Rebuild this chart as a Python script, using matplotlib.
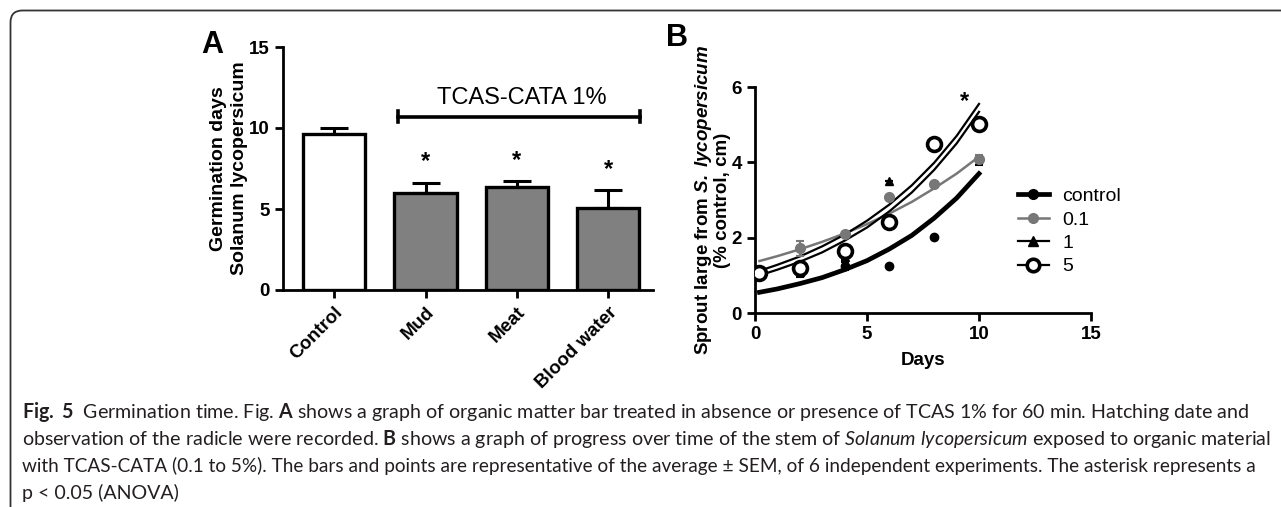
#! /usr/bin/env python3
import numpy as np
import matplotlib
matplotlib.use('Agg')
from matplotlib import pyplot as plt, patches
from matplotlib.lines import Line2D

plt.rcParams['font.family'] = ['Liberation Sans', 'DejaVu Sans']
plt.rcParams['mathtext.fontset'] = 'custom'
plt.rcParams['mathtext.rm'] = 'Lato'
plt.rcParams['mathtext.it'] = 'Lato:italic'
plt.rcParams['mathtext.bf'] = 'Lato:bold'
try:
    plt.rcParams['mathtext.bfit'] = 'Liberation Sans:italic:bold'
    BFIT = True
except KeyError:
    BFIT = False

# Panel A: germination days
categories = ['Control', 'Mud', 'Meat', 'Blood water']
germ_days = [9.65, 6.0, 6.35, 5.05]
germ_sem = [0.35, 0.6, 0.35, 1.1]
bar_colors = ['white', '#808080', '#808080', '#808080']
significant = [False, True, True, True]

# Panel B: sprout length over time
days = [0.2, 2, 4, 6, 8, 10]
control_pts = [1.05, 1.15, 1.25, 1.25, 2.02, 4.05]
control_err = [0.0, 0.1, 0.1, 0.0, 0.0, 0.12]
c01_pts = [1.05, 1.72, 2.1, 3.07, 3.42, 4.1]
c01_err = [0.0, 0.2, 0.05, 0.0, 0.05, 0.1]
c1_pts = [1.05, 1.1, 1.5, 3.5, 4.45, 5.0]
c1_err = [0.0, 0.15, 0.1, 0.0, 0.0, 0.0]
c5_pts = [1.05, 1.2, 1.65, 2.42, 4.48, 5.03]
c5_err = [0.0, 0.05, 0.0, 0.0, 0.05, 0.05]

# fitted growth curves
curve_days = [0.2, 1, 2, 3, 4, 5, 6, 7, 8, 9, 10]
fit_control = [0.55, 0.64, 0.78, 0.94, 1.15, 1.39, 1.70, 2.06, 2.52, 3.05, 3.70]
fit_01 = [1.38, 1.51, 1.69, 1.89, 2.11, 2.36, 2.64, 2.95, 3.31, 3.70, 4.15]
fit_1 = [1.12, 1.28, 1.50, 1.77, 2.08, 2.45, 2.88, 3.39, 3.99, 4.70, 5.55]
fit_5 = [1.00, 1.15, 1.36, 1.61, 1.92, 2.27, 2.70, 3.20, 3.80, 4.50, 5.34]

caption_lines = [
    r'$\mathbf{Fig.\ 5}$  Germination time. Fig. $\mathbf{A}$ shows a graph of organic matter bar treated in absence or presence of TCAS 1% for 60 min. Hatching date and',
    r'observation of the radicle were recorded. $\mathbf{B}$ shows a graph of progress over time of the stem of $\mathit{Solanum\ lycopersicum}$ exposed to organic material',
    'with TCAS-CATA (0.1 to 5%). The bars and points are representative of the average \u00b1 SEM, of 6 independent experiments. The asterisk represents a',
    'p < 0.05 (ANOVA)',
]
caption_sizes = [14.1, 14.1, 13.7, 14.1]

W, H = 1281, 507
fig = plt.figure(figsize=(W / 100, H / 100), dpi=100)


def style_axes(ax):
    for side in ['top', 'right']:
        ax.spines[side].set_visible(False)
    for side in ['left', 'bottom']:
        ax.spines[side].set_linewidth(2)
    ax.tick_params(width=2, length=6, direction='out', labelsize=13.5)
    for lab in ax.get_xticklabels() + ax.get_yticklabels():
        lab.set_fontweight('bold')


# ---- Panel A ----
axA = fig.add_axes([283 / W, 1 - 290 / H, 370 / W, 243 / H])
x = np.arange(len(categories))
axA.bar(x, germ_days, width=0.68, color=bar_colors, edgecolor='black', linewidth=2.4, zorder=2)
axA.errorbar(x, germ_days, yerr=[np.zeros(len(x)), germ_sem], fmt='none', ecolor='black',
             elinewidth=2.2, capsize=10, capthick=2.2, zorder=1)
for xi, v, e, s in zip(x, germ_days, germ_sem, significant):
    if s:
        axA.text(xi, v + e + 0.6, '*', ha='center', va='bottom', fontsize=17, fontweight='bold')
axA.set_xlim(-0.56, 3.49)
axA.set_ylim(0, 15)
axA.set_yticks([0, 5, 10, 15])
axA.set_xticks(x)
axA.set_xticklabels(categories, rotation=45, ha='right', va='top', rotation_mode='anchor')
axA.set_ylabel('Germination days\nSolanum lycopersicum', fontsize=14, fontweight='bold',
               labelpad=1, linespacing=1.3)
style_axes(axA)
axA.tick_params(axis='x', pad=4)

# bracket for treated groups
axA.plot([0.7, 3.35], [10.7, 10.7], color='black', lw=2.6, clip_on=False)
axA.plot([0.7, 0.7], [10.35, 11.05], color='black', lw=2.6, clip_on=False)
axA.plot([3.35, 3.35], [10.35, 11.05], color='black', lw=2.6, clip_on=False)
axA.text(2.05, 11.15, 'TCAS-CATA 1%', ha='center', va='bottom', fontsize=17)

fig.text(212 / W, 1 - 45 / H, 'A', fontsize=22, fontweight='bold', ha='center', va='center')

# ---- Panel B ----
axB = fig.add_axes([755 / W, 1 - 313 / H, 336 / W, 226 / H])
axB.plot(curve_days, fit_control, color='black', lw=3.4, zorder=2)
axB.plot(curve_days, fit_01, color='#777777', lw=1.8, zorder=2)
axB.plot(curve_days, fit_1, color='black', lw=1.6, zorder=2)
axB.plot(curve_days, fit_5, color='black', lw=1.6, zorder=2)

axB.errorbar(days, control_pts, yerr=control_err, fmt='o', color='black', ms=6,
             capsize=3, elinewidth=1.5, capthick=1.5, zorder=3)
axB.errorbar(days, c01_pts, yerr=c01_err, fmt='o', color='#777777', ms=7,
             capsize=3, elinewidth=1.5, capthick=1.5, zorder=3)
axB.errorbar(days, c1_pts, yerr=c1_err, fmt='^', color='black', ms=6,
             capsize=3, elinewidth=1.5, capthick=1.5, zorder=4)
axB.errorbar(days, c5_pts, yerr=c5_err, fmt='o', mfc='white', mec='black', mew=2.6, color='black',
             ms=10, capsize=3, elinewidth=1.5, capthick=1.5, zorder=4)
axB.text(9.35, 5.3, '*', ha='center', va='bottom', fontsize=17, fontweight='bold')

axB.set_xlim(0, 15)
axB.set_ylim(0, 6)
axB.set_xticks([0, 5, 10, 15])
axB.set_yticks([0, 2, 4, 6])
axB.set_xlabel('Days', fontsize=13.5, fontweight='bold', labelpad=6)
if BFIT:
    ylabB = 'Sprout large from $\\mathbfit{S.\\ lycopersicum}$\n(% control, cm)'
else:
    ylabB = 'Sprout large from S. lycopersicum\n(% control, cm)'
axB.set_ylabel(ylabB, fontsize=13.5, fontweight='bold', labelpad=0, linespacing=1.05)
style_axes(axB)

handles = [
    Line2D([], [], color='black', lw=3.4, marker='o', ms=7),
    Line2D([], [], color='#777777', lw=1.8, marker='o', ms=7),
    Line2D([], [], color='black', lw=1.6, marker='^', ms=7),
    Line2D([], [], color='black', lw=1.6, marker='o', ms=9, mfc='white', mew=2.6),
]
fig.legend(handles, ['control', '0.1', '1', '5'], loc='upper left',
           bbox_to_anchor=(1000 / W, 1 - 170 / H), frameon=False, fontsize=14,
           handlelength=1.6, handletextpad=0.7, labelspacing=0.3)

fig.text(677 / W, 1 - 38 / H, 'B', fontsize=22, fontweight='bold', ha='center', va='center')

# caption
for i, line in enumerate(caption_lines):
    fig.text(22 / W, 1 - (418 + 27 * i) / H, line, fontsize=caption_sizes[i], family='Lato',
             color='#231f20', ha='left', va='baseline')

# outer frame
frame = patches.FancyBboxPatch((10.5, -40), 1400, H - 10.5 + 40,
                               boxstyle='round,pad=0,rounding_size=12',
                               transform=None, fill=False, edgecolor='#333333', lw=1.3)
fig.patches.append(frame)

fig.savefig('out.png', dpi=100)
